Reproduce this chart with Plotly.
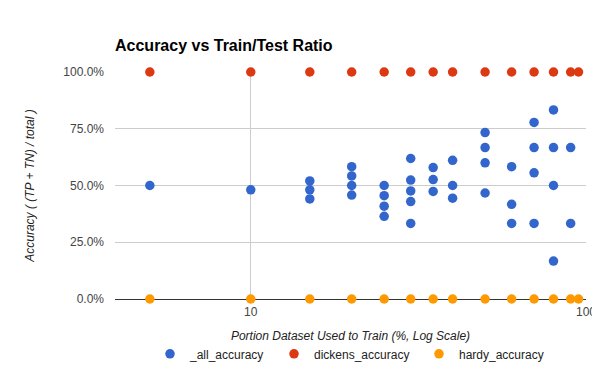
import plotly.graph_objects as go

train_pct = [5, 10, 15, 20, 25, 30, 35, 40, 50, 60, 70, 80, 90, 95]

all_x = [5, 10, 15, 15, 15, 20, 20, 20, 20, 25, 25, 25, 25,
         30, 30, 30, 30, 30, 35, 35, 35, 40, 40, 40,
         50, 50, 50, 50, 60, 60, 60, 70, 70, 70, 70,
         80, 80, 80, 80, 90, 90]
all_acc = [0.5, 0.481, 0.52, 0.481, 0.441, 0.583, 0.542, 0.5, 0.458,
           0.5, 0.455, 0.409, 0.364,
           0.619, 0.524, 0.476, 0.429, 0.333,
           0.579, 0.526, 0.474,
           0.611, 0.5, 0.444,
           0.733, 0.667, 0.6, 0.467,
           0.583, 0.417, 0.333,
           0.778, 0.667, 0.556, 0.333,
           0.833, 0.667, 0.5, 0.167,
           0.667, 0.333]
dickens_acc = [1.0] * len(train_pct)
hardy_acc = [0.0] * len(train_pct)

font_family = "Liberation Sans, Arial, sans-serif"

# page body has an 8px default margin; compensate so the plot lands where the reference has it
W, H, OFF = 592, 363, 8

fig = go.Figure()
fig.add_trace(go.Scatter(x=all_x, y=all_acc, mode="markers", name="_all_accuracy",
                         marker=dict(color="#3366CC", size=9.5), cliponaxis=False,
                         legend="legend"))
fig.add_trace(go.Scatter(x=train_pct, y=dickens_acc, mode="markers", name="dickens_accuracy",
                         marker=dict(color="#DC3912", size=9.5), cliponaxis=False,
                         legend="legend2"))
fig.add_trace(go.Scatter(x=train_pct, y=hardy_acc, mode="markers", name="hardy_accuracy",
                         marker=dict(color="#FF9900", size=9.5), cliponaxis=False,
                         legend="legend3"))

plot_left, plot_w = 115, 471
leg_common = dict(orientation="h", y=-0.2416, yanchor="middle", xanchor="left",
                  font=dict(size=12, color="#222"), bgcolor="rgba(0,0,0,0)")

fig.update_layout(
    width=W, height=H,
    margin=dict(l=115 - OFF, r=14, t=72 - OFF, b=72, autoexpand=False),
    paper_bgcolor="white", plot_bgcolor="white",
    font=dict(family=font_family, size=12, color="#444"),
    title=dict(text="<b>Accuracy vs Train/Test Ratio</b>", x=(115 - OFF) / W, xanchor="left",
               y=1 - (45 - OFF) / H, yanchor="middle",
               font=dict(size=16, color="#000", family=font_family)),
    showlegend=True,
    legend=dict(x=(150 - plot_left) / plot_w, **leg_common),
    legend2=dict(x=(274 - plot_left) / plot_w, **leg_common),
    legend3=dict(x=(419 - plot_left) / plot_w, **leg_common),
)
fig.update_xaxes(type="log", range=[0.595, 2.0], tickvals=[10, 100], ticktext=["10", "100"],
                 showgrid=True, gridcolor="#cccccc", zeroline=False,
                 showline=False, ticks="", automargin=False, ticklabelstandoff=4,
                 title=dict(text="<i>Portion Dataset Used to Train (%, Log Scale)</i>",
                            font=dict(size=12, color="#222"), standoff=13))
fig.update_yaxes(range=[0, 1], tickvals=[0, 0.25, 0.5, 0.75, 1.0], tickformat=".1%",
                 showgrid=True, gridcolor="#cccccc", zeroline=True, zerolinecolor="#333333",
                 zerolinewidth=1, showline=False, ticks="", automargin=False,
                 ticklabelstandoff=10,
                 title=dict(text="<i>Accuracy ( (TP + TN) / total )</i>",
                            font=dict(size=12, color="#222"), standoff=26))

fig.write_html("out.html")
